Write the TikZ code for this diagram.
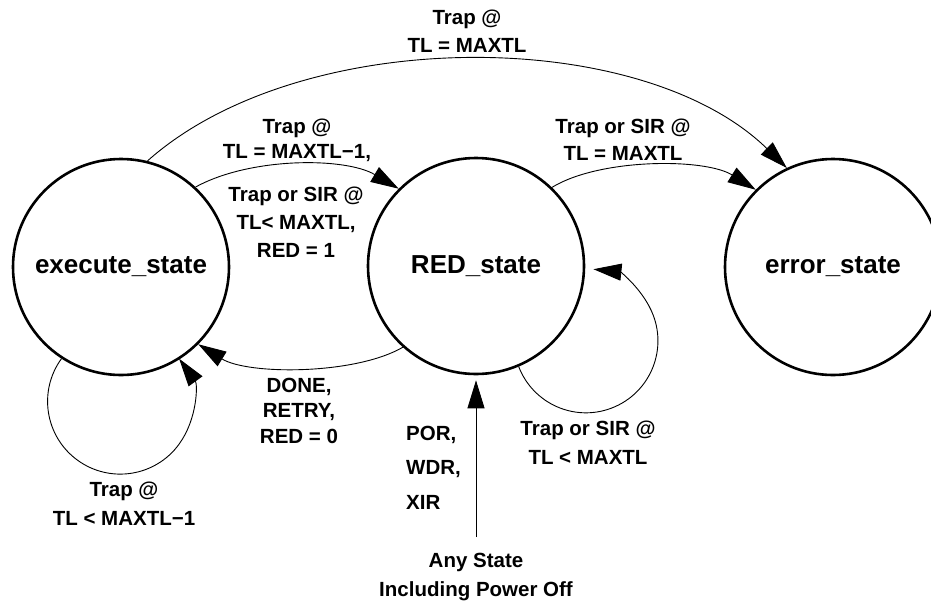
\documentclass[tikz,border=0pt]{standalone}
\usepackage{fontspec}
\setmainfont{Liberation Sans}
\usetikzlibrary{arrows.meta}
\tikzset{
  statenode/.style={circle, draw, line width=2.6pt, minimum size=216pt, inner sep=0pt,
    font=\fontsize{26}{30}\selectfont\bfseries},
  conn/.style={line width=0.9pt, -{Triangle[length=28pt,width=17pt]}},
  lbl/.style={font=\fontsize{20.5}{#1}\selectfont\bfseries, align=center, inner sep=0pt},
  lbl/.default=28
}
\begin{document}
\begin{tikzpicture}[x=1pt,y=1pt]
\useasboundingbox (0,0) rectangle (931,-603);
% states
\node[statenode] (ex) at (121,-267) {execute\_state};
\node[statenode] (red) at (476,-266) {RED\_state};
\node[statenode] (er) at (833,-267) {error\_state};
\coordinate (src) at (476,-537);

% connectors
\draw[conn] (ex.76) .. controls (300,-25) and (640,-25) .. (er.115);
\draw[conn] (ex.47) .. controls (250,-157) and (345,-157) .. (red.135);
\draw[conn] (red.46) .. controls (600,-158) and (705,-158) .. (er.135);
\draw[conn] (red.228) .. controls (355,-375) and (248,-375) .. (ex.315);
\draw[conn] (ex.237) arc[start angle=144, end angle=396, radius=72.7];
\draw[conn] (red.293) arc[start angle=201, end angle=444, radius=72];
\draw[conn, shorten >=5pt] (src) -- (red.south);

% labels
\node[lbl=28] (l1) at (467,-31) {Trap @\\TL = MAXTL};
\node[lbl=25] (l2) at (297,-140.5) {Trap @\\TL = MAXTL−1,};
\node[lbl=28] (l3) at (296,-222) {Trap or SIR @\\TL< MAXTL,\\RED = 1};
\node[lbl=27] (l4) at (623,-140) {Trap or SIR @\\TL = MAXTL};
\node[lbl=25.5] (l5) at (299,-410.5) {DONE,\\RETRY,\\RED = 0};
\node[lbl=29] (l6) at (124,-503.5) {Trap @\\TL < MAXTL−1};
\node[lbl=34.5, align=left, anchor=west] (l7) at (406,-467.5) {POR,\\WDR,\\XIR};
\node[lbl=29] (l8) at (588,-442.5) {Trap or SIR @\\TL < MAXTL};
\node[lbl=29] (l9) at (476,-577.5) {Any State\\Including Power Off};
\end{tikzpicture}
\end{document}
